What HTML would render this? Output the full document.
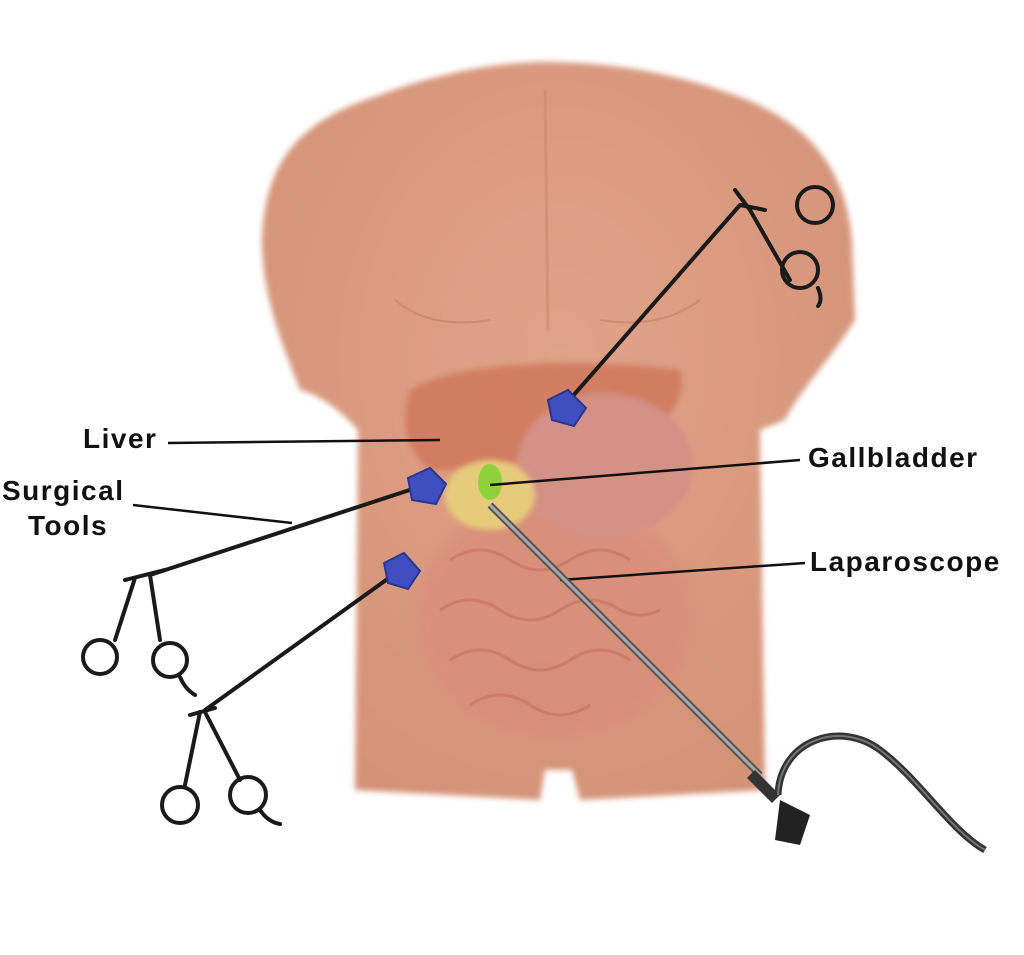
<!DOCTYPE html>
<html><head><meta charset="utf-8"><style>
html,body{margin:0;padding:0;background:#fff;}
body{width:1024px;height:955px;overflow:hidden;position:relative;}
.l{position:absolute;font-family:"Liberation Sans",sans-serif;font-weight:bold;font-size:28px;letter-spacing:1.5px;color:#111;line-height:34px;}
</style></head><body>
<svg width="1024" height="955" style="position:absolute;left:0;top:0">
<defs>
<radialGradient id="sk" cx="0.5" cy="0.4" r="0.7">
<stop offset="0" stop-color="#e0a389"/><stop offset="1" stop-color="#d39176"/></radialGradient>
<filter id="bl"><feGaussianBlur stdDeviation="6"/></filter>
<filter id="bl2"><feGaussianBlur stdDeviation="3"/></filter>
</defs>
<path filter="url(#bl2)" fill="url(#sk)" d="M262,240 C265,160 300,120 380,95 C440,72 500,62 545,62 C600,62 660,70 720,90 C800,115 845,160 852,240 L855,320 C830,360 800,390 785,420 L760,430 L765,790 L580,800 L572,770 L545,770 L540,800 L355,790 L358,430 C340,410 320,395 300,390 C285,350 262,300 262,240 Z"/>
<path d="M545,90 L548,330" stroke="#c98a70" stroke-width="3" fill="none" opacity="0.6"/>
<path d="M395,300 Q430,330 490,320 M600,320 Q660,330 700,300" stroke="#c27f66" stroke-width="2" fill="none" opacity="0.6"/>
<ellipse cx="555" cy="620" rx="140" ry="120" fill="#d98e7a" filter="url(#bl)" opacity="0.8"/>
<path d="M450,560 q30,-20 60,0 q30,20 60,0 q30,-20 60,0 M440,610 q30,-20 60,0 q30,20 60,0 q30,-20 60,0 q20,10 40,0 M450,660 q30,-20 60,0 q30,20 60,0 q30,-20 60,0 M470,705 q30,-20 60,0 q30,20 60,0" stroke="#c4705e" stroke-width="3" fill="none" opacity="0.6"/>
<path filter="url(#bl2)" fill="#d0785c" opacity="0.85" d="M410,390 C450,365 560,355 680,370 C690,400 660,440 600,450 C540,460 480,470 430,470 C405,450 400,420 410,390Z"/>
<ellipse cx="605" cy="465" rx="88" ry="72" fill="#d49186" filter="url(#bl2)"/>
<ellipse cx="490" cy="495" rx="45" ry="35" fill="#e8d27a" opacity="0.9" filter="url(#bl2)"/>
<ellipse cx="490" cy="482" rx="12" ry="18" fill="#8ed13a"/>
<g stroke="#111" stroke-width="2.5">
<line x1="168" y1="443" x2="440" y2="440"/>
<line x1="800" y1="460" x2="490" y2="485"/>
<line x1="133" y1="505" x2="292" y2="523"/>
<line x1="805" y1="563" x2="560" y2="580"/>
</g>
<g stroke="#1a1a1a" stroke-width="4" fill="none" stroke-linecap="round">
<line x1="565" y1="405" x2="740" y2="205"/>
<path d="M740,205 L765,210 M735,190 L750,210 L790,280"/>
<circle cx="815" cy="205" r="18"/><circle cx="800" cy="270" r="18"/>
<path d="M818,288 q5,12 0,18"/>
<line x1="425" y1="485" x2="150" y2="575"/>
<path d="M125,580 L165,570 M135,578 L115,640 M150,575 L160,640"/>
<circle cx="100" cy="657" r="17"/><circle cx="170" cy="660" r="17"/>
<path d="M180,677 q5,12 15,18"/>
<line x1="400" y1="570" x2="205" y2="710"/>
<path d="M190,715 L215,708 M200,712 L185,785 M205,712 L240,780"/>
<circle cx="180" cy="805" r="18"/><circle cx="248" cy="795" r="18"/>
<path d="M260,810 q8,12 20,14"/>
</g>
<g fill="#3f4fc0" stroke="#2a3590" stroke-width="2">
<path d="M548,400 l20,-10 l18,18 l-12,18 l-22,-6z"/>
<path d="M408,478 l22,-10 l16,16 l-10,20 l-24,-4z"/>
<path d="M384,563 l20,-10 l16,18 l-12,18 l-20,-6z"/>
</g>
<line x1="490" y1="505" x2="760" y2="775" stroke="#555" stroke-width="7"/>
<line x1="490" y1="505" x2="760" y2="775" stroke="#aaa" stroke-width="3"/>
<path d="M755,770 l25,25 l-8,8 l-25,-25z" fill="#333"/>
<path d="M780,800 l30,15 l-10,30 l-25,-5z" fill="#222"/>
<path d="M778,795 C780,740 840,720 880,750 C920,780 950,830 985,850" stroke="#333" stroke-width="7" fill="none"/>
<path d="M778,795 C780,740 840,720 880,750 C920,780 950,830 985,850" stroke="#777" stroke-width="2" fill="none"/>
</svg>
<div class="l" style="left:83px;top:422px">Liver</div>
<div class="l" style="left:808px;top:441px">Gallbladder</div>
<div class="l" style="left:2px;top:474px">Surgical</div>
<div class="l" style="left:28px;top:509px">Tools</div>
<div class="l" style="left:810px;top:545px">Laparoscope</div>
</body></html>
